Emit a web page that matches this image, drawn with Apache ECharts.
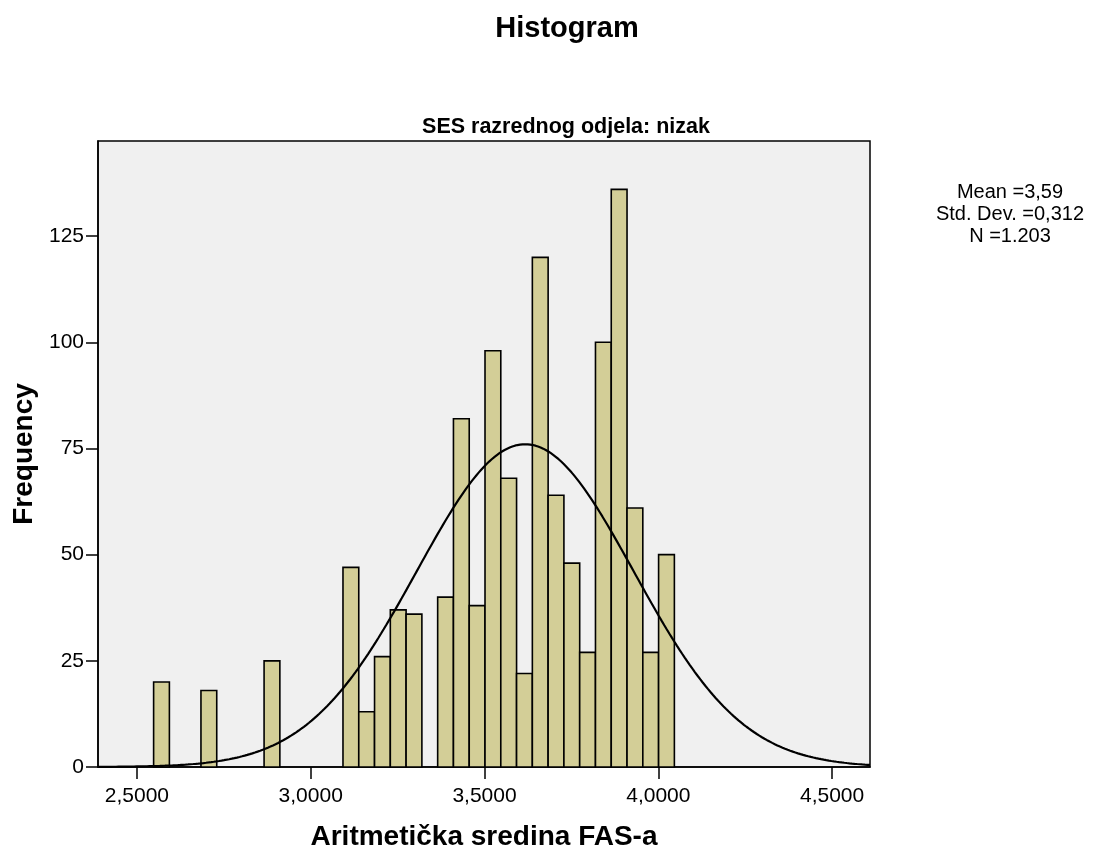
<!DOCTYPE html>
<html>
<head>
<meta charset="utf-8">
<script src="https://cdn.jsdelivr.net/npm/echarts@6/dist/echarts.min.js"></script>
<style>
html,body{margin:0;padding:0;background:#fff;}
#chart{width:1093px;height:855px;}
</style>
</head>
<body>
<div id="chart"></div>
<script>
// ---- data ----
var binWidth = 0.0454;
var binLeft = [2.5480, 2.6842, 2.8658, 3.0928, 3.1382, 3.1836, 3.2290, 3.2744, 3.3652, 3.4106, 3.4560, 3.5014,
               3.5468, 3.5922, 3.6376, 3.6830, 3.7284, 3.7738, 3.8192, 3.8646, 3.9100, 3.9554, 4.0008];
var counts  = [20, 18, 25, 47, 13, 26, 37, 36, 40, 82, 38, 98,
               68, 22, 120, 64, 48, 27, 100, 136, 61, 27, 50];
var xTicks = [2.5, 3.0, 3.5, 4.0, 4.5];
var statLines = ['Mean =3,59', 'Std. Dev. =0,312', 'N =1.203'];
// fitted normal curve (as drawn)
var curveMean = 3.617;
var curveSd = 0.312;
var curvePeak = 76;
var xMin = 2.388, xMax = 4.609;

var barData = binLeft.map(function (l, i) { return [l, l + binWidth, counts[i]]; });
var curveData = [];
for (var k = 0; k <= 300; k++) {
  var x = xMin + (xMax - xMin) * k / 300;
  var z = (x - curveMean) / curveSd;
  curveData.push([x, curvePeak * Math.exp(-0.5 * z * z)]);
}

var FONT = 'Liberation Sans, Arial, sans-serif';
var chart = echarts.init(document.getElementById('chart'));
chart.setOption({
  animation: false,
  backgroundColor: '#ffffff',
  grid: {
    left: 98, right: 223, top: 141, bottom: 88,
    outerBoundsMode: 'none', containLabel: false,
    show: true, backgroundColor: '#f0f0f0', borderColor: '#000', borderWidth: 1.5
  },
  xAxis: {
    type: 'value', min: xMin, max: xMax,
    name: 'Aritmetička sredina FAS-a', nameLocation: 'middle', nameGap: 56,
    nameTextStyle: { fontFamily: FONT, fontSize: 28, fontWeight: 'bold', color: '#000' },
    axisLine: { show: true, lineStyle: { color: '#000', width: 1.5 } },
    axisTick: { show: true, length: 12, lineStyle: { color: '#000', width: 1.5 }, customValues: xTicks },
    axisLabel: {
      customValues: xTicks, margin: 19, fontFamily: FONT, fontSize: 21, color: '#000',
      formatter: function (v) { return v.toFixed(4).replace('.', ','); }
    },
    splitLine: { show: false }
  },
  yAxis: {
    type: 'value', min: 0, max: 147.4, interval: 25,
    name: 'Frequency', nameLocation: 'middle', nameGap: 47, nameRotate: 90,
    nameTextStyle: { fontFamily: FONT, fontSize: 28, fontWeight: 'bold', color: '#000' },
    axisLine: { show: true, lineStyle: { color: '#000', width: 1.5 } },
    axisTick: { show: true, length: 12, lineStyle: { color: '#000', width: 1.5 } },
    axisLabel: { margin: 14, fontFamily: FONT, fontSize: 21, color: '#000', showMaxLabel: false },
    splitLine: { show: false }
  },
  graphic: [
    { type: 'text', style: { x: 567, y: 29, text: 'Histogram', textAlign: 'center', textVerticalAlign: 'middle',
      font: 'bold 29px ' + FONT, fill: '#000' } },
    { type: 'text', style: { x: 566, y: 127, text: 'SES razrednog odjela: nizak', textAlign: 'center', textVerticalAlign: 'middle',
      font: 'bold 21.5px ' + FONT, fill: '#000' } },
    { type: 'text', style: { x: 1010, y: 214, text: statLines.join('\n'), textAlign: 'center', textVerticalAlign: 'middle',
      font: '20px ' + FONT, lineHeight: 22, fill: '#000' } }
  ],
  series: [
    {
      type: 'custom',
      data: barData,
      encode: { x: [0, 1], y: 2 },
      renderItem: function (params, api) {
        var p0 = api.coord([api.value(0), 0]);
        var p1 = api.coord([api.value(1), api.value(2)]);
        return {
          type: 'rect',
          shape: { x: p0[0], y: p1[1], width: p1[0] - p0[0], height: p0[1] - p1[1] },
          style: { fill: '#d3ce97', stroke: '#000', lineWidth: 1.6 }
        };
      },
      z: 2
    },
    {
      type: 'line',
      data: curveData,
      showSymbol: false,
      smooth: false,
      lineStyle: { color: '#000', width: 2.2 },
      z: 3
    }
  ]
});
</script>
</body>
</html>
